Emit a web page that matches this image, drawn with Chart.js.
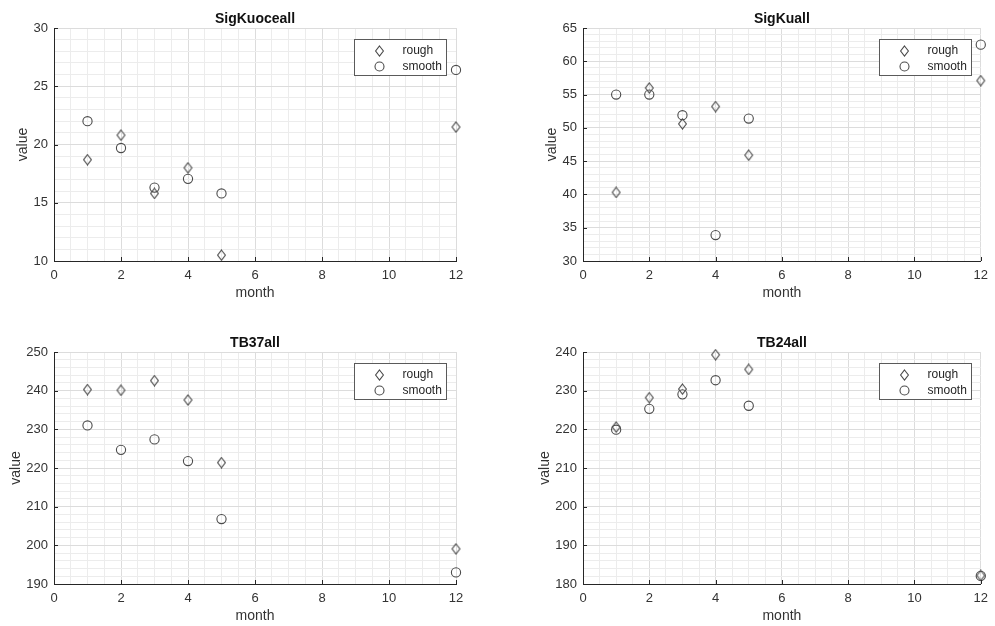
<!DOCTYPE html>
<html>
<head>
<meta charset="utf-8">
<script src="https://cdn.jsdelivr.net/npm/chart.js@4/dist/chart.umd.min.js"></script>
<style>
  html, body { margin: 0; padding: 0; background: #fff; }
  #wrap { position: relative; width: 995px; height: 626px; overflow: hidden; }
  .panel { position: absolute; }
</style>
</head>
<body>
<div id="wrap">
  <div class="panel" style="left:0;top:0"><canvas id="c1" width="495" height="313"></canvas></div>
  <div class="panel" style="left:529px;top:0"><canvas id="c2" width="466" height="313"></canvas></div>
  <div class="panel" style="left:0;top:313px"><canvas id="c3" width="495" height="313"></canvas></div>
  <div class="panel" style="left:529px;top:313px"><canvas id="c4" width="466" height="313"></canvas></div>
</div>
<script>
// months sampled
const months = [1, 2, 3, 4, 5, 12];

// SigKuoceall
const sigKuoceRough  = [18.7, 20.8, 15.8, 18.0, 10.5, 21.5];
const sigKuoceSmooth = [22.0, 19.7, 16.3, 17.05, 15.8, 26.4];

// SigKuall
const sigKuRough  = [40.3, 56.0, 50.6, 53.2, 45.9, 57.1];
const sigKuSmooth = [55.0, 55.0, 51.9, 33.9, 51.4, 62.5];

// TB37all
const tb37Rough  = [240.3, 240.1, 242.6, 237.6, 221.4, 199.1];
const tb37Smooth = [231.0, 224.7, 227.4, 221.8, 206.8, 193.0];

// TB24all
const tb24Rough  = [220.6, 228.2, 230.4, 239.3, 235.5, 182.2];
const tb24Smooth = [219.9, 225.3, 229.05, 232.7, 226.1, 182.1];

// x axis: labels every 2, grid every 0.5
const xMajor = [0, 2, 4, 6, 8, 10, 12];
const xRange = [0, 12, 0.5];

const seriesNames = ['rough', 'smooth'];

const INK = '#262626';
const MARK = '#4a4a4a';
const GRID_MAJOR = '#dcdcdc';
const GRID_MINOR = '#ececec';
const FONT = 'Arial, "Liberation Sans", Helvetica, sans-serif';

// diamond marker, a little taller than wide
function makeDiamond() {
  const c = document.createElement('canvas');
  c.width = 11; c.height = 12;
  const g = c.getContext('2d');
  g.strokeStyle = MARK;
  g.lineWidth = 1.1;
  g.beginPath();
  g.moveTo(5.5, 1); g.lineTo(9.4, 6); g.lineTo(5.5, 11); g.lineTo(1.6, 6);
  g.closePath();
  g.stroke();
  return c;
}
const diamond = makeDiamond();

function range(lo, hi, step) {
  const out = [];
  for (let v = lo; v <= hi + 1e-9; v += step) out.push(Math.round(v * 1000) / 1000);
  return out;
}
function onStep(v, step) {
  return Math.abs(v / step - Math.round(v / step)) < 1e-6;
}

// boxed legend in the upper right corner of the plot area
const boxLegend = {
  id: 'boxLegend',
  afterDatasetsDraw(chart) {
    const { ctx, chartArea } = chart;
    const w = 92, h = 36;
    const x0 = Math.round(chartArea.right - 102) + 0.5;
    const y0 = Math.round(chartArea.top + 11) + 0.5;
    ctx.save();
    ctx.fillStyle = '#fff';
    ctx.fillRect(x0, y0, w, h);
    ctx.strokeStyle = '#5a5a5a';
    ctx.lineWidth = 1;
    ctx.strokeRect(x0, y0, w, h);
    ctx.font = '12px ' + FONT;
    ctx.fillStyle = INK;
    ctx.textBaseline = 'middle';
    chart.data.datasets.forEach((ds, i) => {
      const cy = y0 + 11 + i * 16;
      const mx = x0 + 25;
      if (ds.pointStyle === 'circle') {
        ctx.strokeStyle = MARK;
        ctx.lineWidth = 1.1;
        ctx.beginPath();
        ctx.arc(mx, cy, 4.5, 0, Math.PI * 2);
        ctx.stroke();
      } else {
        ctx.drawImage(diamond, Math.round(mx - diamond.width / 2), Math.round(cy - diamond.height / 2));
      }
      ctx.fillText(ds.label, x0 + 48, cy);
    });
    ctx.restore();
  }
};

// short inward tick marks on the two drawn axes
const innerTicks = {
  id: 'innerTicks',
  afterDraw(chart) {
    const { ctx, chartArea, scales } = chart;
    ctx.save();
    ctx.strokeStyle = INK;
    ctx.lineWidth = 1;
    ctx.beginPath();
    scales.x.ticks.forEach(t => {
      if (!onStep(t.value, 2)) return;
      const px = Math.round(scales.x.getPixelForValue(t.value)) + 0.5;
      ctx.moveTo(px, chartArea.bottom);
      ctx.lineTo(px, chartArea.bottom - 4);
    });
    const ys = chart.options.scales.y.majorStep;
    scales.y.ticks.forEach(t => {
      if (!onStep(t.value, ys)) return;
      const py = Math.round(scales.y.getPixelForValue(t.value)) + 0.5;
      ctx.moveTo(chartArea.left, py);
      ctx.lineTo(chartArea.left + 4, py);
    });
    ctx.stroke();
    ctx.restore();
  }
};

function makePanel(id, title, rough, smooth, yMin, yMax, yMajorStep, yMinorStep, padTop, padRight, padBottom, yTitleGap) {
  const toPts = vals => months.map((m, i) => ({ x: m, y: vals[i] }));
  new Chart(document.getElementById(id), {
    type: 'scatter',
    data: {
      datasets: [
        {
          label: seriesNames[0],
          data: toPts(rough),
          pointStyle: diamond,
          pointRadius: 5,
          borderColor: MARK,
          backgroundColor: 'rgba(0,0,0,0)',
          clip: false
        },
        {
          label: seriesNames[1],
          data: toPts(smooth),
          pointStyle: 'circle',
          pointRadius: 4.6,
          pointBorderWidth: 1.1,
          borderColor: MARK,
          backgroundColor: 'rgba(0,0,0,0)',
          clip: false
        }
      ]
    },
    options: {
      responsive: false,
      animation: false,
      events: [],
      layout: { padding: { left: 0, right: padRight, top: padTop, bottom: padBottom } },
      plugins: {
        legend: { display: false },
        tooltip: { enabled: false },
        title: {
          display: true,
          text: title,
          fullSize: false,
          color: '#111',
          font: { family: FONT, size: 14, weight: 'bold', lineHeight: 1.2 },
          padding: { top: 0, bottom: 0.6 }
        }
      },
      scales: {
        x: {
          type: 'linear',
          min: xRange[0],
          max: xRange[1],
          afterBuildTicks: s => { s.ticks = range(xRange[0], xRange[1], xRange[2]).map(v => ({ value: v })); },
          afterFit: s => { s.height = 42; },
          ticks: {
            autoSkip: false,
            maxRotation: 0,
            padding: 7,
            color: '#333',
            font: { family: FONT, size: 13 },
            callback: v => (xMajor.includes(v) ? String(v) : '')
          },
          grid: {
            drawTicks: false,
            color: c => (onStep(c.tick.value, 2) ? GRID_MAJOR : GRID_MINOR)
          },
          border: { display: true, color: INK, width: 1 },
          title: {
            display: true,
            text: 'month',
            color: '#333',
            font: { family: FONT, size: 14, lineHeight: 1.2 },
            padding: { top: 0, bottom: 1 }
          }
        },
        y: {
          type: 'linear',
          min: yMin,
          max: yMax,
          majorStep: yMajorStep,
          afterBuildTicks: s => { s.ticks = range(yMin, yMax, yMinorStep).map(v => ({ value: v })); },
          afterFit: s => { s.width = 54; },
          ticks: {
            autoSkip: false,
            padding: 6,
            color: '#333',
            font: { family: FONT, size: 13 },
            callback: v => (onStep(v, yMajorStep) ? String(v) : '')
          },
          grid: {
            drawTicks: false,
            color: c => (onStep(c.tick.value, yMajorStep) ? GRID_MAJOR : GRID_MINOR)
          },
          border: { display: true, color: INK, width: 1 },
          title: {
            display: true,
            text: 'value',
            color: '#333',
            font: { family: FONT, size: 14, lineHeight: 1.2 },
            padding: { top: yTitleGap, bottom: 0 }
          }
        }
      }
    },
    plugins: [innerTicks, boxLegend]
  });
}

makePanel('c1', 'SigKuoceall', sigKuoceRough, sigKuoceSmooth, 10, 30, 5, 1, 10.6, 39, 10, 15);
makePanel('c2', 'SigKuall', sigKuRough, sigKuSmooth, 30, 65, 5, 1, 10.6, 9, 10, 15);
makePanel('c3', 'TB37all', tb37Rough, tb37Smooth, 190, 250, 10, 2, 21.6, 39, 0, 8);
makePanel('c4', 'TB24all', tb24Rough, tb24Smooth, 180, 240, 10, 2, 21.6, 9, 0, 8);
</script>
</body>
</html>
